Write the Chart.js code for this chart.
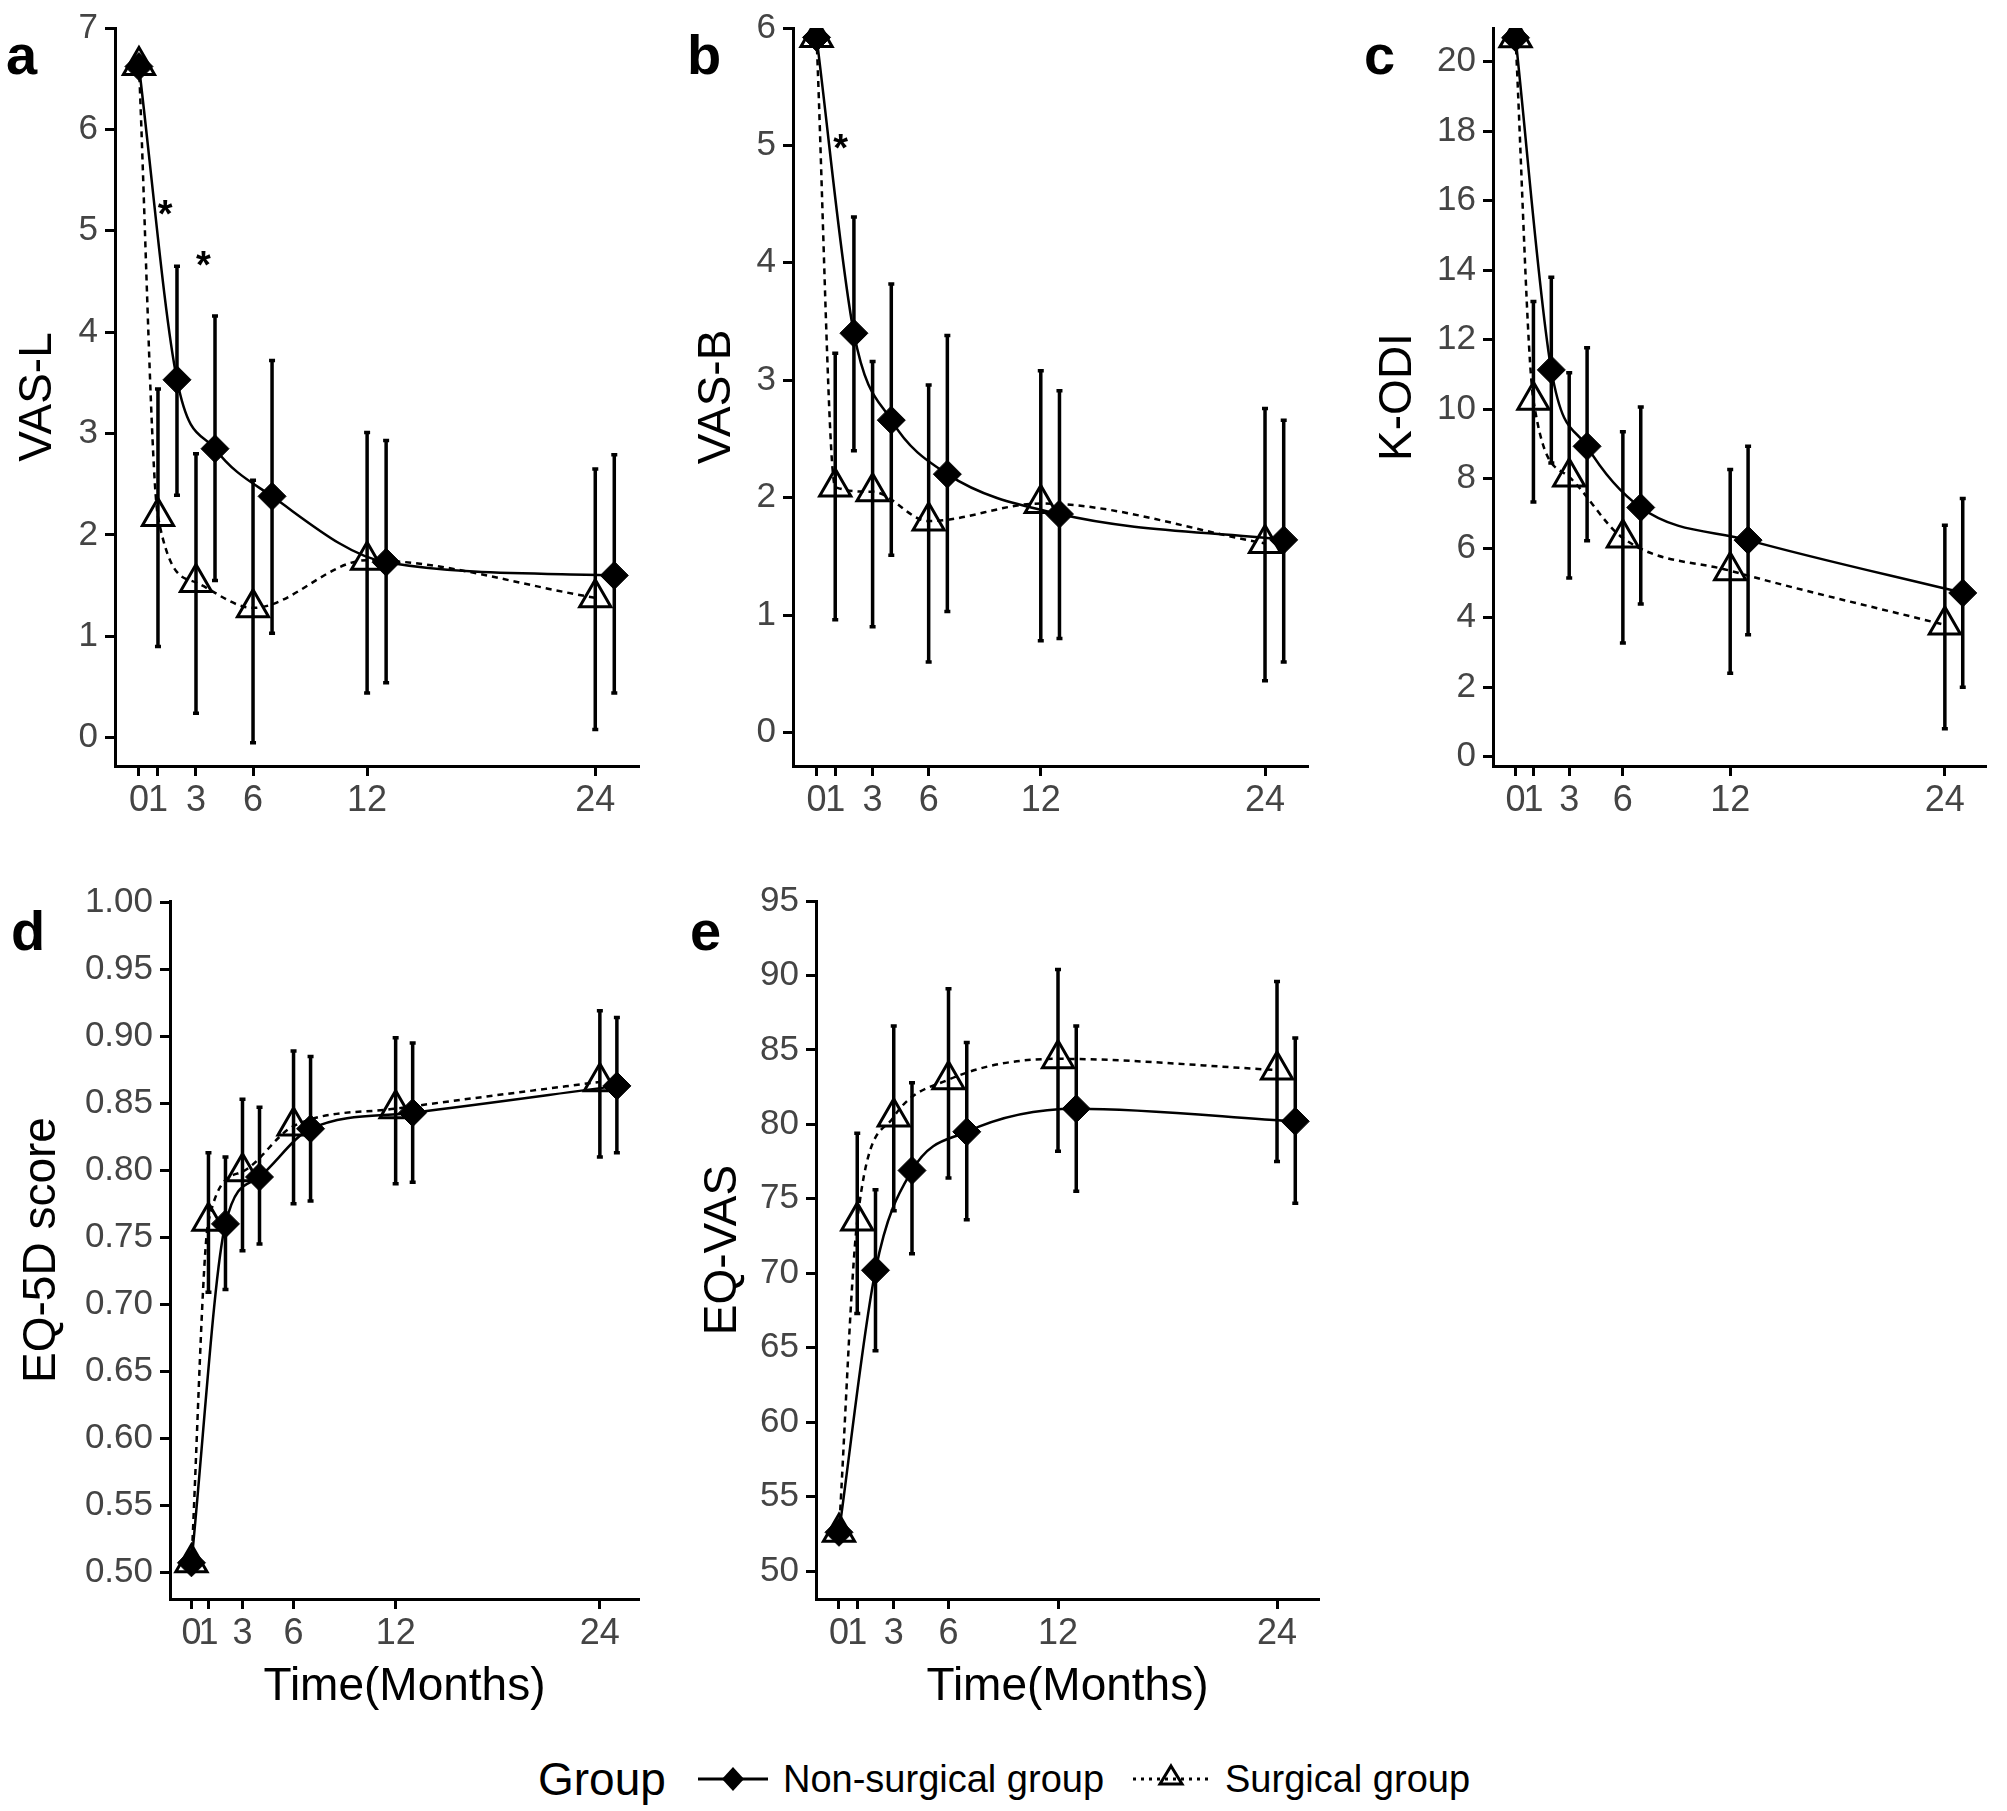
<!DOCTYPE html>
<html>
<head>
<meta charset="utf-8">
<script src="https://cdn.jsdelivr.net/npm/chart.js@4.4.1/dist/chart.umd.min.js"></script>
<style>
html, body { margin: 0; padding: 0; background: #fff; }
body { width: 2007px; height: 1811px; position: relative; overflow: hidden; font-family: "Liberation Sans", Arial, sans-serif; }
.cell { position: absolute; }
.tag { position: absolute; font-weight: bold; font-size: 56px; line-height: 1; color: #000; }
.leg { position: absolute; line-height: 1; color: #000; white-space: nowrap; }
</style>
</head>
<body>

<div class="tag" style="left:6px;top:27px">a</div>
<div class="tag" style="left:687px;top:27px">b</div>
<div class="tag" style="left:1364px;top:27px">c</div>
<div class="tag" style="left:11px;top:903px">d</div>
<div class="tag" style="left:690px;top:903px">e</div>

<canvas id="pa" class="cell" style="left:0px;top:0px" width="660" height="860"></canvas>
<canvas id="pb" class="cell" style="left:680px;top:0px" width="660" height="860"></canvas>
<canvas id="pc" class="cell" style="left:1360px;top:0px" width="647" height="860"></canvas>
<canvas id="pd" class="cell" style="left:0px;top:870px" width="660" height="850"></canvas>
<canvas id="pe" class="cell" style="left:680px;top:870px" width="660" height="850"></canvas>

<!-- legend -->
<div class="leg" style="left:538px;top:1756px;font-size:46px">Group</div>
<svg class="cell" style="left:690px;top:1755px" width="86" height="48">
  <line x1="8" y1="24" x2="78" y2="24" stroke="#000" stroke-width="3"/>
  <polygon points="43,12 54,24 43,36 32,24" fill="#000"/>
</svg>
<div class="leg" style="left:783px;top:1760px;font-size:38px">Non-surgical group</div>
<svg class="cell" style="left:1128px;top:1755px" width="86" height="48">
  <line x1="5" y1="24" x2="81" y2="24" stroke="#000" stroke-width="3" stroke-dasharray="3,5"/>
  <polygon points="43,11 54,29 32,29" fill="none" stroke="#000" stroke-width="3"/>
</svg>
<div class="leg" style="left:1225px;top:1760px;font-size:38px">Surgical group</div>

<script>
// follow-up time points and tick labels
const months = [0, 1, 3, 6, 12, 24];
const xTicks = [0, 1, 3, 6, 12, 24];
const DODGE = 1; // non-surgical group drawn 1 month to the right (except baseline)

// a: VAS-L
const aNon   = [6.62, 3.53, 2.85, 2.38, 1.73, 1.60];
const aNonLo = [null, 2.39, 1.55, 1.03, 0.54, 0.44];
const aNonHi = [null, 4.65, 4.16, 3.72, 2.93, 2.79];
const aSur   = [6.63, 2.18, 1.53, 1.28, 1.75, 1.38];
const aSurLo = [null, 0.90, 0.24, -0.05, 0.44, 0.08];
const aSurHi = [null, 3.44, 2.80, 2.54, 3.01, 2.65];
const aTicks = [0, 1, 2, 3, 4, 5, 6, 7];
const aStarX = [1.38, 3.39];
const aStarY = [5.16, 4.66];

// b: VAS-B
const bNon   = [5.92, 3.40, 2.66, 2.20, 1.86, 1.64];
const bNonLo = [null, 2.40, 1.51, 1.03, 0.80, 0.60];
const bNonHi = [null, 4.39, 3.82, 3.38, 2.91, 2.66];
const bSur   = [5.92, 2.09, 2.05, 1.80, 1.95, 1.61];
const bSurLo = [null, 0.96, 0.90, 0.60, 0.78, 0.44];
const bSurHi = [null, 3.23, 3.16, 2.96, 3.08, 2.76];
const bTicks = [0, 1, 2, 3, 4, 5, 6];
const bStarX = [1.29];
const bStarY = [4.97];

// c: K-ODI
const cNon   = [20.69, 11.13, 8.93, 7.17, 6.23, 4.71];
const cNonLo = [null, 8.45, 6.21, 4.39, 3.51, 2.00];
const cNonHi = [null, 13.80, 11.77, 10.06, 8.93, 7.43];
const cSur   = [20.69, 10.26, 8.05, 6.29, 5.35, 3.79];
const cSurLo = [null, 7.33, 5.14, 3.27, 2.40, 0.80];
const cSurHi = [null, 13.10, 11.05, 9.35, 8.26, 6.66];
const cTicks = [0, 2, 4, 6, 8, 10, 12, 14, 16, 18, 20];

// d: EQ-5D score
const dNon   = [0.507, 0.760, 0.795, 0.831, 0.843, 0.863];
const dNonLo = [null, 0.711, 0.745, 0.777, 0.791, 0.813];
const dNonHi = [null, 0.810, 0.847, 0.885, 0.895, 0.914];
const dSur   = [0.507, 0.762, 0.799, 0.833, 0.846, 0.866];
const dSurLo = [null, 0.709, 0.740, 0.775, 0.790, 0.810];
const dSurHi = [null, 0.813, 0.853, 0.889, 0.899, 0.919];
const dTicks = [0.50, 0.55, 0.60, 0.65, 0.70, 0.75, 0.80, 0.85, 0.90, 0.95, 1.00];

// e: EQ-VAS
const eNon   = [52.6, 70.2, 76.9, 79.5, 81.05, 80.2];
const eNonLo = [null, 64.8, 71.3, 73.6, 75.5, 74.7];
const eNonHi = [null, 75.6, 82.8, 85.5, 86.6, 85.8];
const eSur   = [52.6, 73.5, 80.5, 83.0, 84.4, 83.65];
const eSurLo = [null, 67.3, 74.2, 76.4, 78.2, 77.5];
const eSurHi = [null, 79.4, 86.6, 89.1, 90.4, 89.6];
const eTicks = [50, 55, 60, 65, 70, 75, 80, 85, 90, 95];

const FONT = '"Liberation Sans", Arial, sans-serif';

// vertical error bars, drawn under the lines and points
const errorBars = {
    id: 'errorBars',
    beforeDatasetsDraw(chart) {
        const { ctx, scales: { x, y } } = chart;
        ctx.save();
        ctx.strokeStyle = '#000';
        ctx.lineWidth = 3.5;
        chart.data.datasets.forEach((ds) => {
            ds.data.forEach((p, i) => {
                if (ds.errLo[i] == null) return;
                const px = x.getPixelForValue(p.x);
                const y1 = y.getPixelForValue(ds.errLo[i]);
                const y2 = y.getPixelForValue(ds.errHi[i]);
                ctx.beginPath();
                ctx.moveTo(px, y1); ctx.lineTo(px, y2);
                ctx.moveTo(px - 3, y1); ctx.lineTo(px + 3, y1);
                ctx.moveTo(px - 3, y2); ctx.lineTo(px + 3, y2);
                ctx.stroke();
            });
        });
        ctx.restore();
    },
};

// significance asterisks
const stars = {
    id: 'stars',
    afterDatasetsDraw(chart, args, opts) {
        if (!opts.x) return;
        const { ctx, scales: { x, y } } = chart;
        ctx.save();
        ctx.fillStyle = '#000';
        ctx.font = 'bold 38px ' + FONT;
        ctx.textAlign = 'center';
        ctx.textBaseline = 'middle';
        opts.x.forEach((v, i) => {
            ctx.fillText('*', x.getPixelForValue(v), y.getPixelForValue(opts.y[i]) + 2);
        });
        ctx.restore();
    },
};

function points(vals, shift) {
    return vals.map((v, i) => ({ x: months[i] + (i > 0 ? shift : 0), y: v }));
}

function panel(id, p) {
    const data = {
        datasets: [
            {
                label: 'Non-surgical group',
                data: points(p.non, DODGE),
                errLo: p.nonLo,
                errHi: p.nonHi,
                borderColor: '#000',
                borderWidth: 2.5,
                cubicInterpolationMode: 'monotone',
                pointStyle: 'rectRot',
                pointRadius: 14,
                pointBackgroundColor: '#000',
                pointBorderColor: '#000',
                pointBorderWidth: 1,
            },
            {
                label: 'Surgical group',
                data: points(p.sur, 0),
                errLo: p.surLo,
                errHi: p.surHi,
                borderColor: '#000',
                borderWidth: 2.5,
                borderDash: [6, 5],
                cubicInterpolationMode: 'monotone',
                pointStyle: 'triangle',
                pointRadius: 18,
                pointBackgroundColor: 'rgba(0,0,0,0)',
                pointBorderColor: '#000',
                pointBorderWidth: 3,
            },
        ],
    };
    const config = {
        type: 'line',
        data: data,
        plugins: [errorBars, stars],
        options: {
            responsive: false,
            animation: false,
            devicePixelRatio: 1,
            layout: { padding: { top: p.padTop, right: p.padRight, left: 0, bottom: 0 } },
            plugins: {
                legend: { display: false },
                tooltip: { enabled: false },
                stars: { x: p.starX, y: p.starY },
            },
            scales: {
                x: {
                    type: 'linear',
                    min: -1.26,
                    max: 26.3,
                    afterBuildTicks: (s) => { s.ticks = xTicks.map((v) => ({ value: v })); },
                    afterFit: (s) => { s.height = p.xh; },
                    ticks: {
                        autoSkip: false,
                        maxRotation: 0,
                        color: '#444',
                        padding: 3,
                        font: { size: 36, family: FONT },
                        callback: (v) => String(v),
                    },
                    grid: { drawOnChartArea: false, tickLength: 10, tickWidth: 3, tickColor: '#000' },
                    border: { color: '#000', width: 3 },
                    title: {
                        display: p.xTitle,
                        text: 'Time(Months)',
                        color: '#000',
                        font: { size: 46, family: FONT, lineHeight: 1 },
                        padding: { top: 0, bottom: 10 },
                    },
                },
                y: {
                    min: p.yMin,
                    max: p.yMax,
                    afterBuildTicks: (s) => { s.ticks = p.ticks.map((v) => ({ value: v })); },
                    afterFit: (s) => { s.width = p.yw; },
                    ticks: {
                        color: '#444',
                        padding: 7,
                        font: { size: 35, family: FONT },
                        callback: p.fmt,
                    },
                    grid: { drawOnChartArea: false, tickLength: 10, tickWidth: 3, tickColor: '#000' },
                    border: { color: '#000', width: 3 },
                    title: {
                        display: true,
                        text: p.yTitle,
                        color: '#000',
                        font: { size: 46, family: FONT, lineHeight: 1 },
                        padding: { top: p.titlePad, bottom: 0 },
                    },
                },
            },
        },
    };
    return new Chart(document.getElementById(id), config);
}

const intFmt = (v) => String(v);

panel('pa', { non: aNon, nonLo: aNonLo, nonHi: aNonHi, sur: aSur, surLo: aSurLo, surHi: aSurHi,
    ticks: aTicks, yMin: -0.28, yMax: 7.0, yTitle: 'VAS-L', fmt: intFmt, starX: aStarX, starY: aStarY,
    padTop: 18, padRight: 14, yw: 115, xh: 94, titlePad: 15, xTitle: false });
panel('pb', { non: bNon, nonLo: bNonLo, nonHi: bNonHi, sur: bSur, surLo: bSurLo, surHi: bSurHi,
    ticks: bTicks, yMin: -0.286, yMax: 6.0, yTitle: 'VAS-B', fmt: intFmt, starX: bStarX, starY: bStarY,
    padTop: 20, padRight: 32, yw: 113, xh: 94, titlePad: 14, xTitle: false });
panel('pc', { non: cNon, nonLo: cNonLo, nonHi: cNonHi, sur: cSur, surLo: cSurLo, surHi: cSurHi,
    ticks: cTicks, yMin: -0.27, yMax: 20.97, yTitle: 'K-ODI', fmt: intFmt, starX: null, starY: null,
    padTop: 19, padRight: 5, yw: 133, xh: 94, titlePad: 15, xTitle: false });
panel('pd', { non: dNon, nonLo: dNonLo, nonHi: dNonHi, sur: dSur, surLo: dSurLo, surHi: dSurHi,
    ticks: dTicks, yMin: 0.48, yMax: 1.001, yTitle: 'EQ-5D score', fmt: (v) => v.toFixed(2), starX: null, starY: null,
    padTop: 31, padRight: 14, yw: 170, xh: 121, titlePad: 19, xTitle: true });
panel('pe', { non: eNon, nonLo: eNonLo, nonHi: eNonHi, sur: eSur, surLo: eSurLo, surHi: eSurHi,
    ticks: eTicks, yMin: 48.12, yMax: 95.0, yTitle: 'EQ-VAS', fmt: intFmt, starX: null, starY: null,
    padTop: 31, padRight: 19, yw: 136, xh: 121, titlePad: 20, xTitle: true });
</script>
</body>
</html>
